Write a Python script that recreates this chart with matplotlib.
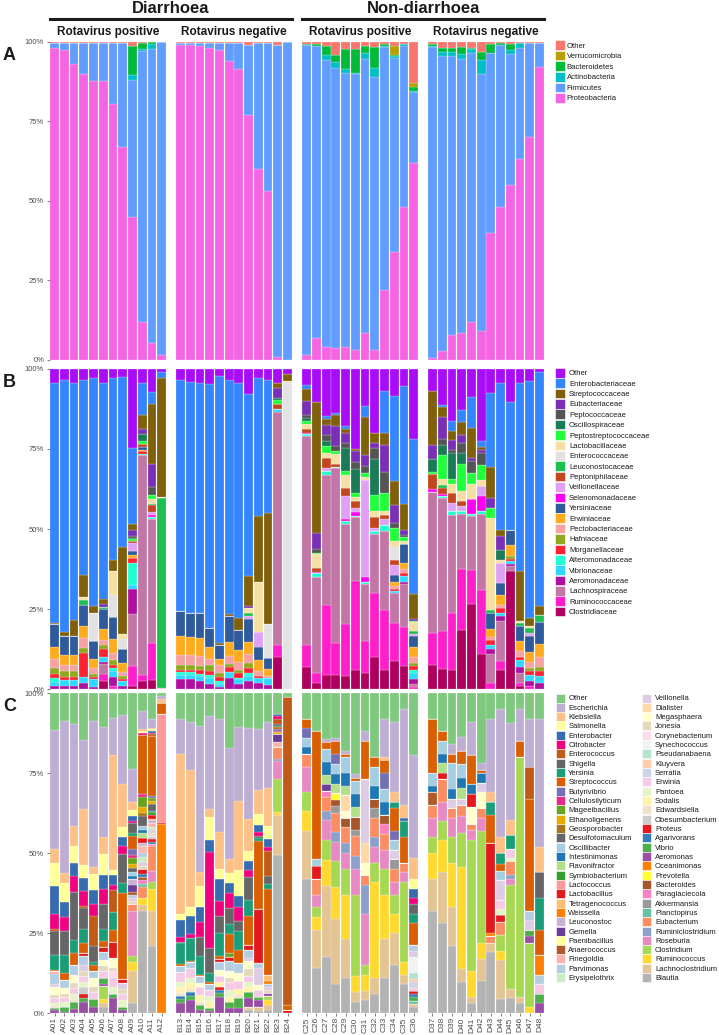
import numpy as np
import pandas as pd
import matplotlib
matplotlib.use("Agg")
import matplotlib.pyplot as plt
from matplotlib.patches import Rectangle
from matplotlib.lines import Line2D

plt.rcParams["font.family"] = ["Liberation Sans", "DejaVu Sans"]

W, H = 719, 1035

groups = ["Diarrhoea", "Non-diarrhoea"]
facet_titles = ["Rotavirus positive", "Rotavirus negative", "Rotavirus positive", "Rotavirus negative"]
facet_samples = [
    ["A01", "A02", "A03", "A04", "A05", "A06", "A07", "A08", "A09", "A10", "A11", "A12"],
    ["B13", "B14", "B15", "B16", "B17", "B18", "B19", "B20", "B21", "B22", "B23", "B24"],
    ["C25", "C26", "C27", "C28", "C29", "C30", "C31", "C32", "C33", "C34", "C35", "C36"],
    ["D37", "D38", "D39", "D40", "D41", "D42", "D43", "D44", "D45", "D46", "D47", "D48"],
]
samples = [s for f in facet_samples for s in f]

# ---------------- A: phylum (%) ----------------
phyla = ["Other", "Verrucomicrobia", "Bacteroidetes", "Actinobacteria", "Firmicutes", "Proteobacteria"]
phylum_colors = ["#F8766D", "#B79F00", "#00BA38", "#00BFC4", "#619CFF", "#F564E3"]

proteobacteria = [98, 97.5, 93, 90, 87.5, 87.5, 80.5, 67, 45, 12, 5.3, 1.6,
                  99, 99, 98.5, 98, 97.5, 94, 91.5, 77, 60, 53, 1, 0.1,
                  1.5, 7, 4, 3.8, 4, 3, 8.5, 3, 22, 34, 48, 62,
                  0.6, 2.8, 8, 8.5, 12, 9, 40, 48, 55, 63, 70, 92]
firmicutes = [1.5, 2, 6.5, 9.5, 12, 12, 19, 32.5, 43, 85, 93, 98.2,
              0.7, 0.7, 1.2, 1.7, 2.2, 5.6, 8, 22, 39.5, 46.5, 98, 99.8,
              97.4, 91.6, 90.1, 88, 86.3, 86.8, 86.2, 85.9, 76.2, 61, 50.7, 22.2,
              97.6, 92.7, 87.5, 86.2, 84.3, 80.8, 56.3, 51.1, 41, 35.1, 29.7, 7.7]
actinobacteria = [0, 0, 0, 0, 0, 0, 0, 0, 1.5, 0.8, 1.6, 0,
                  0, 0, 0, 0, 0, 0, 0, 0, 0, 0, 0, 0,
                  0, 0.2, 1.6, 1.7, 1, 0.5, 1.6, 2.9, 0.6, 0.5, 0.5, 0.4,
                  0.3, 1.4, 1.4, 1.5, 1.5, 4.6, 0.3, 0, 1.5, 1.5, 0, 0]
bacteroidetes = [0, 0, 0, 0, 0.2, 0, 0, 0, 9, 1.7, 0.6, 0,
                 0, 0, 0, 0, 0, 0, 0, 0, 0, 0, 0, 0,
                 0.5, 0.4, 2.8, 2.3, 6.3, 7.5, 2.3, 6.6, 0.4, 0.3, 0, 1.2,
                 0.7, 1, 1, 2.2, 0.3, 2.4, 2.8, 0.5, 1.9, 0, 0, 0]
verrucomicrobia = [0] * 12 + [0] * 12 + [0, 0, 0, 0, 0, 0, 0, 0, 0, 2.9, 0, 1.3] + [0] * 12
other_phylum = [0.5, 0.5, 0.5, 0.5, 0.3, 0.5, 0.5, 0.5, 1.5, 0.5, 0.1, 0.2,
                0.3, 0.3, 0.3, 0.3, 0.3, 0.4, 0.5, 1, 0.5, 0.5, 1, 0.1,
                0.6, 0.8, 1.5, 4.2, 2.4, 2.2, 1.4, 1.6, 0.8, 1.3, 0.8, 12.9,
                0.8, 2.1, 2.1, 1.6, 1.9, 3.2, 0.6, 0.4, 0.6, 0.4, 0.3, 0.3]

# ---------------- B: family (%) ----------------
families = ["Other", "Enterobacteriaceae", "Streptococcaceae", "Eubacteriaceae", "Peptococcaceae",
            "Oscillospiraceae", "Peptostreptococcaceae", "Lactobacillaceae", "Enterococcaceae",
            "Leuconostocaceae", "Peptoniphilaceae", "Veillonellaceae", "Selenomonadaceae",
            "Yersiniaceae", "Erwiniaceae", "Pectobacteriaceae", "Hafniaceae", "Morganellaceae",
            "Alteromonadaceae", "Vibrionaceae", "Aeromonadaceae", "Lachnospiraceae",
            "Ruminococcaceae", "Clostridiaceae"]
fam_codes = ["Oth", "Ent", "Str", "Eub", "Pcc", "Osc", "Pst", "Lac", "Enc", "Leu", "Pnp", "Vei",
             "Sel", "Yer", "Erw", "Pec", "Haf", "Mor", "Alt", "Vib", "Aer", "Lch", "Rum", "Clo"]
family_colors = ["#A90DF8", "#3585FF", "#80600A", "#7A2FB6", "#555555", "#1B7B57", "#1FFF3A",
                 "#F5DFA3", "#E2E2E2", "#1DBF4E", "#C4461F", "#E0A0F5", "#FF00F0", "#2F5A9C",
                 "#FFAB1F", "#F7A1A1", "#8FA81F", "#FF2232", "#20FFD2", "#30D8FF", "#AF109F",
                 "#C276A6", "#FF1FCA", "#AF0060"]

family_diar_pos = [
    dict(Oth=4.5, Ent=74.5, Str=0.5, Yer=7, Erw=3.8, Pec=2.9, Haf=1.7, Mor=1.4, Alt=1.2, Vib=1.2, Aer=0.9),
    dict(Oth=3.4, Ent=79, Str=1.3, Yer=6, Erw=3.1, Pec=1.9, Haf=1.8, Mor=1, Vib=1.9, Aer=0.9),
    dict(Oth=4.4, Ent=74.3, Str=5, Yer=6, Erw=3.1, Pec=1.9, Haf=1.8, Mor=1, Vib=1.9, Aer=0.9),
    dict(Oth=3.4, Ent=61, Str=6.8, Lac=1, Leu=1.6, Yer=6.5, Erw=4, Pec=3, Haf=1.5, Mor=7.5, Vib=1.9, Aer=1.9),
    dict(Oth=2.8, Ent=70.8, Str=2.4, Enc=8.7, Yer=5.5, Erw=2.8, Pec=1.8, Haf=1, Mor=0.5, Vib=2.5, Aer=0.7),
    dict(Oth=4.4, Ent=67, Str=1.5, Eub=0.8, Leu=0.6, Yer=6.2, Erw=3.4, Pec=1.7, Haf=1.2, Mor=2.6, Vib=1.5,
         Aer=0.7, Lch=3.1, Rum=2.1, Clo=2.4),
    dict(Oth=2.8, Ent=56.8, Str=3.4, Lac=7.6, Enc=6.8, Yer=7, Erw=4.5, Pec=2, Haf=1.5, Mor=1, Alt=1, Vib=2,
         Aer=2.6, Rum=1),
    dict(Oth=2.6, Ent=52.8, Str=27, Lac=1.5, Enc=3, Yer=4.5, Erw=2.8, Pec=1.2, Haf=1, Mor=0.5, Vib=1.5, Aer=1),
    dict(Oth=24.3, Ent=23.4, Str=1.9, Eub=1.8, Pcc=0.7, Osc=0.3, Pst=0.5, Pnp=0.8, Vei=2.3, Yer=1.4, Erw=0.8,
         Mor=1.6, Alt=6.8, Vib=1.2, Aer=7.6, Lch=16.1, Rum=6.1, Clo=0.9),
    dict(Oth=4.4, Ent=9.9, Str=4.2, Eub=1.5, Osc=2.1, Pst=1, Pnp=1, Yer=0.7, Erw=0.5, Mor=0.8, Alt=0.4,
         Lch=67.6, Rum=2, Clo=2.4),
    dict(Oth=7.3, Ent=3.8, Str=18.6, Eub=7.3, Pcc=2.6, Pst=1, Lac=1.6, Leu=0.5, Pnp=2.1, Vei=1, Sel=0.5,
         Alt=0.8, Lch=38.8, Rum=11.5, Clo=2.8),
    dict(Oth=1, Ent=1.7, Str=37.2, Lac=0.5, Leu=59.2, Clo=0.4),
]
family_diar_neg = [
    dict(Oth=3.4, Ent=72.2, Yer=7.8, Erw=5.8, Pec=3.1, Haf=1.6, Mor=0.8, Alt=0.7, Vib=1.4, Aer=3.1),
    dict(Oth=4, Ent=72, Yer=7.5, Erw=5.8, Pec=3, Haf=1.5, Mor=0.8, Alt=0.8, Vib=1.4, Aer=3),
    dict(Oth=4.4, Ent=71.7, Yer=8, Erw=5.5, Pec=3, Haf=1.5, Mor=1, Alt=0.8, Vib=1.5, Aer=2.5),
    dict(Oth=4.7, Ent=76.2, Yer=6, Erw=3.5, Pec=2, Haf=2, Mor=1, Alt=1, Vib=2, Aer=1.5),
    dict(Oth=2.3, Ent=83.3, Str=0.5, Yer=4.5, Erw=2, Pec=2.5, Haf=1, Mor=1.5, Alt=0.9, Vib=1, Aer=0.5),
    dict(Oth=3.4, Ent=72.9, Str=0.5, Yer=8.3, Erw=4.2, Pec=2.6, Haf=0.7, Mor=1.6, Vib=2, Aer=3.4),
    dict(Oth=4.4, Ent=73, Str=3.6, Yer=6.5, Erw=3.5, Pec=2.5, Haf=1, Mor=1.5, Alt=0.5, Vib=1.5, Aer=1.5),
    dict(Oth=7.8, Ent=57, Str=9.3, Eub=0.7, Leu=0.8, Lac=1.6, Yer=7, Erw=4, Pec=2.8, Haf=1.5, Mor=1.5, Vei=1,
         Alt=1, Vib=1.5, Aer=2.5),
    dict(Oth=2.8, Ent=43.2, Str=20.8, Lac=15.6, Vei=4.8, Yer=4.2, Erw=3.3, Pec=1.7, Mor=0.6, Vib=1.5, Aer=1.9),
    dict(Oth=3.4, Ent=41.7, Str=34.9, Enc=10.4, Yer=3.6, Erw=2.1, Pec=0.7, Vib=2, Aer=1.4),
    dict(Oth=4.4, Str=1.4, Eub=3.3, Osc=0.5, Pst=1.4, Pnp=1.6, Vib=0.8, Lch=72.7, Rum=3.6, Clo=10.1),
    dict(Oth=1.6, Str=2.3, Lac=0.5, Enc=95.6),
]
family_non_pos = [
    dict(Oth=4.9, Ent=1.5, Str=3.7, Eub=4.2, Pcc=1, Osc=1, Pst=1, Lac=1.5, Pnp=1.2, Sel=0.3, Alt=0.5,
         Lch=65.3, Rum=7, Clo=6.9),
    dict(Oth=10.4, Str=40.8, Eub=5.2, Pcc=1, Pst=0.5, Lac=4.2, Pnp=1.2, Sel=0.5, Alt=1.2, Lch=30, Rum=3, Clo=2),
    dict(Oth=14.6, Ent=1, Str=1.8, Eub=3.3, Pcc=1.9, Osc=1.6, Pst=2.1, Lac=1.4, Pnp=3.3, Vei=1, Alt=1,
         Lch=40.6, Rum=22, Clo=4.4),
    dict(Oth=13.6, Ent=0.7, Str=3.6, Eub=6.3, Pcc=1.5, Pst=1, Lac=2.9, Pnp=1, Alt=0.4, Lch=54.5, Rum=10, Clo=4.5),
    dict(Oth=17.7, Ent=1, Str=1.2, Eub=3.1, Pcc=1.6, Osc=7.3, Pst=1.2, Lac=4, Pnp=2.6, Vei=7.3, Sel=0.5,
         Alt=0.8, Lch=31.5, Rum=16, Clo=4.2),
    dict(Oth=24.9, Str=0.8, Eub=3.3, Pcc=2.1, Osc=7.6, Pst=1.2, Lac=1.4, Pnp=2.1, Vei=1.4, Sel=1, Alt=0.5,
         Lch=19.8, Rum=27.9, Clo=6),
    dict(Oth=11.7, Ent=3.4, Str=11.9, Eub=3.4, Pcc=2.1, Pst=1.2, Lac=1, Vei=30.2, Sel=1.6, Alt=0.8,
         Lch=17.7, Rum=10, Clo=5),
    dict(Oth=20, Str=3.1, Eub=1.6, Pcc=3.3, Osc=11.5, Pst=5, Lac=1.6, Pnp=3.6, Vei=0.8, Alt=1.2,
         Lch=18.3, Rum=20, Clo=10),
    dict(Oth=7, Ent=13, Str=3.6, Eub=8.5, Pcc=6.6, Pst=5.7, Lac=1.2, Pnp=1.2, Vei=2, Alt=1.8,
         Lch=24.7, Rum=18.7, Clo=6),
    dict(Oth=8.5, Ent=26.6, Str=7.3, Eub=5.7, Pcc=1.6, Pst=4.2, Lac=1.6, Enc=4.2, Pnp=1.6, Vei=3.1, Yer=2.1,
         Erw=1.4, Pec=0.8, Mor=0.8, Vib=0.5, Lch=9.4, Rum=12, Clo=8.6),
    dict(Oth=5.2, Ent=37, Str=8, Eub=1.6, Pcc=0.8, Pst=1.2, Lac=1, Yer=5.7, Erw=2.1, Pec=1, Mor=1, Vib=2.1,
         Aer=0.5, Lch=13.5, Rum=12, Clo=7.3),
    dict(Oth=21.8, Ent=48.2, Str=7.8, Eub=0.6, Pst=0.4, Lac=2.6, Leu=1, Vei=0.5, Yer=3.6, Erw=3, Pec=2,
         Haf=1, Mor=1, Alt=1, Vib=2, Aer=1.5, Lch=1, Rum=0.5),
]
family_non_neg = [
    dict(Oth=6.8, Str=17.1, Eub=4.2, Osc=4, Pst=0.7, Pnp=4.7, Sel=1, Lch=44, Rum=10, Clo=7.5),
    dict(Oth=11.1, Ent=0.8, Str=3.1, Eub=7, Pcc=1.8, Osc=3.1, Pst=7.6, Lac=1.8, Leu=0.8, Pnp=1.9, Sel=0.7,
         Alt=0.5, Lch=41.7, Rum=12, Clo=6.1),
    dict(Oth=16.4, Ent=2.9, Str=2.8, Eub=3.1, Pcc=1, Osc=8.3, Pst=1.4, Lac=2.8, Pnp=3.1, Vei=2.6, Alt=1.2,
         Lch=30.5, Rum=18, Clo=5.9),
    dict(Oth=12.7, Ent=3.9, Str=4, Eub=2.6, Pcc=3.1, Osc=3.4, Pst=8.5, Lac=3.1, Pnp=1.6, Vei=1.5, Alt=1,
         Lch=17, Rum=19.3, Clo=18.3),
    dict(Oth=8.9, Ent=9.6, Str=9.4, Eub=1, Pcc=3.6, Lac=4.7, Pst=3.6, Sel=4.7, Alt=0.5, Lch=17.2, Rum=10.4,
         Clo=26.8),
    dict(Oth=22.6, Ent=1.6, Str=1, Eub=1, Pcc=3.6, Pst=4.7, Lac=2.1, Vei=3.1, Sel=4.7, Alt=0.7, Lch=23.7,
         Rum=20, Clo=11),
    dict(Oth=7.5, Ent=22.9, Str=9.4, Eub=3.1, Pst=3.1, Lac=28.6, Leu=1, Yer=4.7, Erw=2.6, Pec=1, Mor=1.6,
         Vib=1, Aer=1.6, Lch=9, Rum=1.9),
    dict(Oth=4.4, Ent=45.8, Str=2.1, Eub=4.2, Osc=3.1, Lac=1, Vei=6.3, Yer=3.6, Erw=3.1, Pec=1, Mor=1.7,
         Vib=1, Aer=1.6, Lch=12.3, Rum=3, Clo=5.8),
    dict(Oth=10.4, Ent=39.8, Yer=4.7, Erw=3.6, Haf=1, Mor=0.5, Vib=1, Aer=0.7, Lch=1.3, Clo=37),
    dict(Oth=4.4, Ent=58.6, Str=15.6, Lac=0.7, Leu=1, Yer=4.7, Erw=3, Pec=2, Mor=1, Vib=2, Aer=2, Lch=3,
         Rum=1, Clo=1),
    dict(Oth=3.6, Ent=74.1, Str=2.6, Lac=0.5, Leu=1.6, Vei=1, Yer=5, Erw=3, Pec=2, Haf=1, Mor=1, Vib=2,
         Aer=1.5, Rum=1),
    dict(Oth=1, Ent=73, Str=3, Leu=2, Yer=7, Erw=4, Pec=3, Haf=1.5, Mor=1.5, Vib=2, Aer=2),
]

# ---------------- C: genus (%) ----------------
genera = ["Other", "Escherichia", "Klebsiella", "Salmonella", "Enterobacter", "Citrobacter",
          "Enterococcus", "Shigella", "Yersinia", "Streptococcus", "Butyrivibrio", "Cellulosilyticum",
          "Mageeibacillus", "Ethanoligenens", "Geosporobacter", "Desulfotomaculum", "Oscillibacter",
          "Intestinimonas", "Flavonifractor", "Symbiobacterium", "Lactococcus", "Lactobacillus",
          "Tetragenococcus", "Weissella", "Leuconostoc", "Gemella", "Paenibacillus", "Anaerococcus",
          "Finegoldia", "Parvimonas", "Erysipelothrix", "Veillonella", "Dialister", "Megasphaera",
          "Jonesia", "Corynebacterium", "Synechococcus", "Pseudanabaena", "Kluyvera", "Serratia",
          "Erwinia", "Pantoea", "Sodalis", "Edwardsiella", "Obesumbacterium", "Proteus", "Agarivorans",
          "Vibrio", "Aeromonas", "Oceanimonas", "Prevotella", "Bacteroides", "Paraglaciecola",
          "Akkermansia", "Planctopirus", "Eubacterium", "Ruminiclostridium", "Roseburia",
          "Clostridium", "Ruminococcus", "Lachnoclostridium", "Blautia"]
gen_codes = ["Othe", "Esch", "Kleb", "Salm", "Entb", "Citr", "Entc", "Shig", "Yers", "Strp", "Buty",
             "Cell", "Mage", "Etha", "Geos", "Desu", "Osci", "Inte", "Flav", "Symb", "Lcoc", "Lbac",
             "Tetr", "Weis", "Leuc", "Geme", "Paen", "Anae", "Fine", "Parv", "Erys", "Veil", "Dial",
             "Mega", "Jone", "Cory", "Syne", "Pseu", "Kluy", "Serr", "Erwi", "Pant", "Soda", "Edwa",
             "Obes", "Prot", "Agar", "Vibr", "Aero", "Ocea", "Prev", "Bact", "Para", "Akke", "Plan",
             "Euba", "Rmcl", "Rose", "Clos", "Rumi", "Lach", "Blau"]
genus_colors = (["#7FC97F", "#BEAED4", "#FDC086", "#FFFF99", "#386CB0", "#F0027F", "#BF5B17", "#666666"]
                + ["#1B9E77", "#D95F02", "#7570B3", "#E7298A", "#66A61E", "#E6AB02", "#A6761D", "#666666"]
                + ["#A6CEE3", "#1F78B4", "#B2DF8A", "#33A02C", "#FB9A99", "#E31A1C", "#FDBF6F", "#FF7F00",
                   "#CAB2D6", "#6A3D9A", "#FFFF99", "#B15928"]
                + ["#FBB4AE", "#B3CDE3", "#CCEBC5", "#DECBE4", "#FED9A6", "#FFFFCC", "#E5D8BD", "#FDDAEC",
                   "#F2F2F2"]
                + ["#B3E2CD", "#FDCDAC", "#CBD5E8", "#F4CAE4", "#E6F5C9", "#FFF2AE", "#F1E2CC", "#CCCCCC"]
                + ["#E41A1C", "#377EB8", "#4DAF4A", "#984EA3", "#FF7F00", "#FFFF33", "#A65628", "#F781BF",
                   "#999999"]
                + ["#66C2A5", "#FC8D62", "#8DA0CB", "#E78AC3", "#A6D854", "#FFD92F", "#E5C494", "#B3B3B3"])

genus_diar_pos = [
    dict(Othe=11.7, Esch=37, Kleb=4.5, Salm=7.3, Entb=8.5, Citr=4.7, Entc=0.7, Shig=7.6, Yers=4.5, Strp=0.5,
         Fine=1, Parv=3, Veil=1, Mega=2.5, Jone=1, Erwi=1.5, Pant=1, Edwa=0.5, Vibr=0.8, Aero=0.8),
    dict(Othe=8.9, Esch=47.4, Kleb=3.1, Salm=5.9, Entb=4.7, Citr=4.4, Shig=7.6, Yers=5.7, Strp=2, Parv=2.5,
         Erwi=1.5, Pant=1.5, Mega=2, Jone=1, Vibr=1.5, Aero=0.4),
    dict(Othe=9.8, Esch=31.9, Kleb=6.2, Salm=5.4, Entb=3.9, Citr=5, Shig=15, Yers=4, Strp=4, Parv=3, Erwi=2,
         Pant=1.5, Mega=2.5, Jone=1.5, Edwa=1, Vibr=2, Aero=1.4),
    dict(Othe=14.6, Esch=21.3, Kleb=17.3, Salm=4, Entb=4.2, Citr=4.5, Entc=0.7, Shig=6.4, Yers=4.4, Strp=3.1,
         Lbac=1, Parv=2.5, Veil=2, Obes=2, Erwi=2, Pant=1.5, Jone=1.5, Prot=1.5, Vibr=1, Aero=3.5),
    dict(Othe=8.9, Esch=45.5, Kleb=2.3, Salm=5, Entb=4.2, Citr=3.9, Entc=9.2, Shig=5, Yers=1, Strp=2, Parv=2,
         Erwi=2, Mega=3, Jone=1.5, Vibr=2.5, Aero=2),
    dict(Othe=10.6, Esch=34.2, Kleb=5.2, Salm=6.5, Entb=4.5, Citr=4.6, Shig=7.8, Yers=3.6, Strp=2, Lbac=1.5,
         Parv=2.5, Erwi=2, Mega=2, Jone=1.5, Vibr=2, Aero=0.5, Clos=4, Rumi=1.5, Lach=1, Blau=2),
    dict(Othe=7.8, Esch=11.3, Kleb=35.7, Salm=1.6, Entb=3.1, Citr=1.4, Entc=7, Yers=5.4, Strp=3.8, Lbac=5,
         Erwi=3, Pant=2, Mega=3, Cory=2, Jone=1, Vibr=1.5, Aero=4.5),
    dict(Othe=7, Esch=21.6, Kleb=13.3, Salm=3.1, Entb=2.9, Citr=2.5, Shig=9.2, Yers=3.1, Strp=27, Lbac=1,
         Veil=2, Erwi=2, Pant=2, Jone=1.5, Vibr=1, Aero=1),
    dict(Othe=23.9, Esch=10.2, Kleb=2.4, Salm=1.9, Entb=1.6, Citr=0.8, Shig=2.9, Yers=1, Strp=4, Buty=2,
         Cell=1, Mage=2, Etha=1, Desu=1.5, Osci=1, Inte=1, Geme=2, Leuc=2, Anae=1, Parv=1, Veil=1, Jone=1,
         Euba=2, Rose=14, Clos=2, Rumi=3, Lach=10, Blau=3),
    dict(Othe=5.4, Esch=5.7, Kleb=0.5, Salm=0.5, Citr=0.6, Strp=18, Cell=1, Mage=3, Etha=2, Geos=1, Desu=3,
         Osci=1, Inte=1, Flav=1.5, Lbac=1.5, Leuc=1, Fine=2, Parv=1.5, Erys=1.5, Veil=1, Jone=1, Prot=1.5,
         Agar=1, Bact=1, Para=1, Euba=3.5, Plan=1, Rumi=2, Lach=2, Blau=31),
    dict(Othe=8.1, Esch=2.8, Kleb=0.5, Salm=0.5, Entb=0.5, Citr=0.5, Entc=0.5, Strp=19, Buty=0.5, Mage=1,
         Etha=1, Desu=2, Inte=0.5, Symb=1, Lbac=1, Tetr=0.5, Leuc=1, Fine=1, Erys=1, Veil=1, Jone=1, Obes=1,
         Prot=1, Agar=0.5, Para=0.5, Euba=8, Rose=3.5, Clos=2, Rumi=7, Lach=11, Blau=21),
    dict(Othe=0.8, Esch=1.2, Kleb=1, Strp=3.6, Lcoc=34, Lbac=0.3, Weis=59.1),
]
genus_diar_neg = [
    dict(Othe=8.1, Esch=11, Kleb=49.5, Salm=1.9, Entb=5.4, Citr=1.4, Shig=0.5, Yers=6.5, Strp=0.5, Parv=2,
         Erwi=3, Pant=1.5, Soda=2, Edwa=1, Agar=1, Vibr=1.2, Aero=3),
    dict(Othe=9.1, Esch=15.1, Kleb=43.2, Salm=2.6, Entb=5.7, Citr=1.4, Yers=7, Strp=0.5, Parv=2, Erwi=3,
         Pant=1.5, Soda=2, Edwa=1, Agar=1, Vibr=1.5, Aero=4),
    dict(Othe=10.4, Esch=45.5, Kleb=4.5, Salm=6.5, Entb=4.7, Citr=4.7, Shig=6, Yers=5.7, Strp=0.5, Parv=2,
         Erwi=2.5, Soda=2, Mega=1.5, Edwa=1, Vibr=1.5, Aero=1),
    dict(Othe=7.3, Esch=29.2, Kleb=2.3, Salm=7.3, Entb=3.6, Citr=30.2, Shig=7.8, Yers=2.9, Strp=0.5, Parv=2,
         Erwi=2, Pant=1.5, Soda=2, Vibr=1.2, Aero=0.5),
    dict(Othe=8.1, Esch=35.2, Kleb=11.4, Salm=3.1, Entb=6.8, Citr=4.7, Shig=5.5, Yers=7, Strp=1, Lbac=0.8,
         Parv=2.5, Erwi=2, Mega=2, Soda=1.5, Prot=0.8, Agar=1, Vibr=1.2, Aero=5),
    dict(Othe=16.9, Esch=33.9, Kleb=4.2, Salm=3.1, Entb=3.1, Citr=4.7, Shig=4.7, Yers=3.1, Strp=6, Mage=1,
         Lbac=1.5, Parv=3, Erwi=2.5, Pant=2, Mega=2, Jone=1.3, Soda=1.5, Vibr=2, Aero=1.5),
    dict(Othe=10.4, Esch=22.9, Kleb=21.6, Salm=7.8, Entb=3.6, Citr=4.2, Shig=3, Yers=6, Strp=4, Parv=3,
         Erwi=2.5, Mega=2.5, Soda=2, Edwa=1, Vibr=3, Aero=1.5),
    dict(Othe=10.9, Esch=28, Kleb=10, Salm=3, Entb=3, Citr=2, Shig=7, Yers=5, Strp=9, Lbac=1.6, Parv=2.5,
         Veil=1, Mega=2.5, Jone=2, Erwi=2, Pant=1.5, Soda=1.5, Vibr=2, Aero=2.5, Rumi=0.5, Lach=0.5, Blau=1),
    dict(Othe=10.4, Esch=18.1, Kleb=6.8, Salm=3.4, Entb=2.1, Citr=1, Shig=0.5, Yers=1, Strp=20, Lbac=15.6,
         Veil=5, Parv=1.5, Mega=1.5, Erwi=2, Vibr=1, Aero=2, Lach=1, Blau=0.7),
    dict(Othe=9.1, Esch=20.8, Kleb=12, Salm=4.2, Entb=2.6, Citr=1, Entc=8, Shig=2.6, Yers=1.5, Strp=27,
         Tetr=2, Weis=1, Parv=1, Veil=1, Jone=0.8, Aero=0.8, Clos=1.5, Rumi=1.5, Lach=1.5, Blau=1),
    dict(Othe=6.5, Entc=1.6, Entb=0.8, Citr=0.8, Shig=0.5, Yers=0.5, Strp=0.6, Buty=0.5, Cell=0.5, Etha=0.5,
         Geme=2.6, Fine=1.6, Euba=3.6, Rmcl=0.8, Rose=5.4, Clos=10.4, Rumi=0.8, Lach=12.7, Blau=49.3),
    dict(Othe=1.2, Entc=96.3, Strp=1.5, Prot=1),
]
genus_non_pos = [
    dict(Othe=8, Strp=3, Buty=3, Osci=3, Inte=2, Euba=4, Rose=8, Clos=6, Rumi=6, Lach=15, Blau=42),
    dict(Othe=12, Strp=40, Osci=2, Lbac=4, Euba=5, Rose=4, Clos=3, Rumi=4, Lach=12, Blau=14),
    dict(Othe=14, Esch=1, Strp=2, Osci=4, Inte=4, Flav=3, Geme=2, Para=2, Euba=4, Rmcl=3, Rose=6, Clos=6,
         Rumi=8, Lach=22, Blau=17),
    dict(Othe=14, Esch=1, Strp=4, Buty=3, Osci=3, Inte=3, Flav=3, Prev=2, Bact=2, Akke=2, Euba=6, Rmcl=3,
         Rose=6, Clos=8, Rumi=10, Lach=20, Blau=9),
    dict(Othe=18, Esch=1, Strp=1, Osci=5, Inte=4, Flav=3, Dial=5, Mega=2, Bact=3, Euba=5, Rmcl=3, Rose=5,
         Clos=8, Rumi=14, Lach=12, Blau=11),
    dict(Othe=25, Esch=1, Strp=1, Osci=4, Inte=4, Flav=3, Bact=4, Akke=2, Euba=6, Rmcl=4, Rose=8, Clos=25,
         Rumi=5, Lach=3, Blau=3.4),
    dict(Othe=12, Esch=3, Strp=12, Veil=20, Dial=6, Mega=4, Euba=3, Rmcl=9, Rose=16, Clos=3, Rumi=5, Lach=3,
         Blau=4),
    dict(Othe=20, Strp=3, Osci=6, Inte=4, Bact=3, Akke=3, Euba=6, Rmcl=3, Rose=5, Clos=6, Rumi=30, Lach=5,
         Blau=6),
    dict(Othe=8, Esch=12, Kleb=1, Strp=4, Buty=5, Osci=4, Inte=4, Bact=3, Para=3, Euba=5, Rose=6, Clos=8,
         Rumi=14, Lach=12, Blau=11),
    dict(Othe=9, Esch=22, Kleb=3, Yers=2, Strp=7, Buty=3, Osci=3, Veil=3, Akke=3, Euba=4, Rose=4, Clos=6,
         Rumi=6, Lach=10, Blau=15),
    dict(Othe=5, Esch=30, Kleb=4, Entb=1, Yers=5, Strp=8, Euba=3, Rose=3, Clos=25, Rumi=4, Lach=3, Blau=9),
    dict(Othe=20, Esch=33, Kleb=7, Salm=3, Entb=3, Citr=2, Shig=3, Yers=3, Strp=7, Parv=2, Veil=2, Syne=5,
         Pseu=2, Kluy=1, Serr=2, Erwi=1, Prot=1, Agar=1, Vibr=1, Plan=1, Lach=1, Blau=2),
]
genus_non_neg = [
    dict(Othe=8, Strp=17, Osci=4, Inte=2, Anae=4, Euba=4, Rose=6, Clos=5, Rumi=8, Lach=10, Blau=32),
    dict(Othe=12, Strp=3, Osci=4, Inte=3, Flav=3, Lbac=2, Euba=7, Rose=6, Clos=6, Rumi=10, Lach=16, Blau=28),
    dict(Othe=16, Esch=3, Strp=3, Osci=8, Inte=3, Veil=3, Euba=3, Rose=6, Clos=8, Rumi=14, Lach=12, Blau=21),
    dict(Othe=13, Esch=4, Strp=4, Osci=4, Inte=3, Flav=3, Veil=2, Euba=3, Rose=5, Clos=10, Rumi=30, Lach=4,
         Blau=9),
    dict(Othe=9, Esch=10, Strp=9, Inte=3, Lbac=4, Mega=5, Euba=2, Rose=3, Clos=40, Rumi=8, Lach=2, Blau=3),
    dict(Othe=22, Esch=2, Strp=1, Inte=3, Veil=3, Mega=5, Euba=3, Rose=4, Clos=35, Rumi=5, Lach=7, Blau=10),
    dict(Othe=8, Esch=23, Kleb=3, Yers=4, Strp=9, Lbac=28, Weis=1, Euba=2, Lach=3, Blau=19),
    dict(Othe=5, Esch=40, Kleb=5, Yers=3.6, Strp=2, Osci=3, Veil=6, Erwi=3, Pant=2, Prot=2, Euba=4, Clos=5,
         Rumi=3, Lach=12, Blau=4.5),
    dict(Othe=10, Esch=33, Kleb=5, Yers=4.7, Erwi=3, Pant=1, Euba=4.7, Rmcl=1.6, Rose=2, Clos=35, Lach=3.1,
         Blau=5),
    dict(Othe=5, Esch=10, Strp=5, Clos=75, Lach=2, Blau=3),
    dict(Othe=8, Esch=15, Entc=10, Strp=35, Parv=3, Veil=3, Vibr=2, Aero=2, Clos=20, Rumi=2),
    dict(Othe=8, Esch=40, Kleb=8, Shig=8, Yers=10, Strp=8, Weis=6, Parv=3, Erwi=3, Vibr=3, Aero=3),
]


def build(facet_dicts, codes, names):
    rows = [d for facet in facet_dicts for d in facet]
    df = pd.DataFrame(rows, index=samples).reindex(columns=codes).fillna(0)
    df.columns = names
    return df.div(df.sum(axis=1), axis=0) * 100


phylum_table = pd.DataFrame({
    "Other": other_phylum, "Verrucomicrobia": verrucomicrobia, "Bacteroidetes": bacteroidetes,
    "Actinobacteria": actinobacteria, "Firmicutes": firmicutes, "Proteobacteria": proteobacteria,
}, index=samples)
phylum_table = phylum_table.div(phylum_table.sum(axis=1), axis=0) * 100
family_table = build([family_diar_pos, family_diar_neg, family_non_pos, family_non_neg], fam_codes, families)
genus_table = build([genus_diar_pos, genus_diar_neg, genus_non_pos, genus_non_neg], gen_codes, genera)

# ---------------- drawing ----------------
fig = plt.figure(figsize=(W / 100, H / 100), dpi=100)
fig.patch.set_facecolor("white")


def px_axes(left, top, width, height):
    return fig.add_axes([left / W, 1 - (top + height) / H, width / W, height / H])


facet_left = [49.7, 175.6, 301.8, 427.6]
facet_width = 116.8
tick_grey = "#4D4D4D"


def draw_row(table, names, colors, top, height, show_x):
    for f, ids in enumerate(facet_samples):
        ax = px_axes(facet_left[f], top, facet_width, height)
        sub = table.loc[ids]
        xs = np.arange(len(ids))
        bottom = np.zeros(len(ids))
        for name, col in zip(names[::-1], colors[::-1]):
            vals = sub[name].values
            ax.bar(xs, vals, 0.9, bottom=bottom, color=col, edgecolor="white", linewidth=0.15)
            bottom = bottom + vals
        ax.set_xlim(-0.5, 11.5)
        ax.set_ylim(0, 100)
        for s in ax.spines.values():
            s.set_visible(False)
        ax.set_yticks([0, 25, 50, 75, 100])
        if f == 0:
            ax.set_yticklabels(["0%", "25%", "50%", "75%", "100%"])
            ax.tick_params(axis="y", length=2.5, width=0.5, color=tick_grey, labelsize=5.5,
                           labelcolor=tick_grey, pad=1.5)
        else:
            ax.tick_params(axis="y", length=0, labelleft=False)
        ax.set_xticks(xs)
        if show_x:
            ax.set_xticklabels(ids, rotation=90)
            ax.tick_params(axis="x", length=2, width=0.5, color=tick_grey, labelsize=6,
                           labelcolor=tick_grey, pad=1)
        else:
            ax.tick_params(axis="x", length=0, labelbottom=False)


draw_row(phylum_table, phyla, phylum_colors, 41.7, 318.3, False)
draw_row(family_table, families, family_colors, 369, 320, False)
draw_row(genus_table, genera, genus_colors, 693, 320, True)

# headers
for g, name in enumerate(groups):
    x0 = facet_left[2 * g]
    x1 = facet_left[2 * g + 1] + facet_width
    fig.text((x0 + x1) / 2 / W, 1 - 13.3 / H, name, ha="center", va="baseline",
             fontsize=12, fontweight="bold", color="#1A1A1A")
    fig.add_artist(Line2D([x0 / W, x1 / W], [1 - 19.3 / H] * 2, color="#1A1A1A", linewidth=2.2,
                          transform=fig.transFigure))
for f, title in enumerate(facet_titles):
    fig.text((facet_left[f] + facet_width / 2) / W, 1 - 35 / H, title, ha="center", va="baseline",
             fontsize=8.5, fontweight="bold", color="#1A1A1A")

for letter, y in [("A", 60), ("B", 387), ("C", 711)]:
    fig.text(3 / W, 1 - y / H, letter, ha="left", va="baseline", fontsize=13, fontweight="bold",
             color="#1A1A1A")


def draw_legend(names, colors, x_patch, y_first, step, size, text_x, fs=5.5):
    for i, (n, c) in enumerate(zip(names, colors)):
        yc = y_first + i * step
        fig.add_artist(Rectangle((x_patch / W, 1 - (yc + size / 2) / H), size / W, size / H,
                                 transform=fig.transFigure, facecolor=c, edgecolor="white", linewidth=0.4))
        fig.text(text_x / W, 1 - yc / H, n, fontsize=fs, ha="left", va="center_baseline", color="#1A1A1A")


draw_legend(phyla, phylum_colors, 555, 45, 10.6, 9.6, 566.7)
draw_legend(families, family_colors, 555, 372.7, 10.39, 9.6, 569)
draw_legend(genera[:31], genus_colors[:31], 555.7, 698, 9.32, 9.0, 568.3)
draw_legend(genera[31:], genus_colors[31:], 642.3, 698, 9.32, 9.0, 655)

fig.savefig("out.png", dpi=100, facecolor="white")
